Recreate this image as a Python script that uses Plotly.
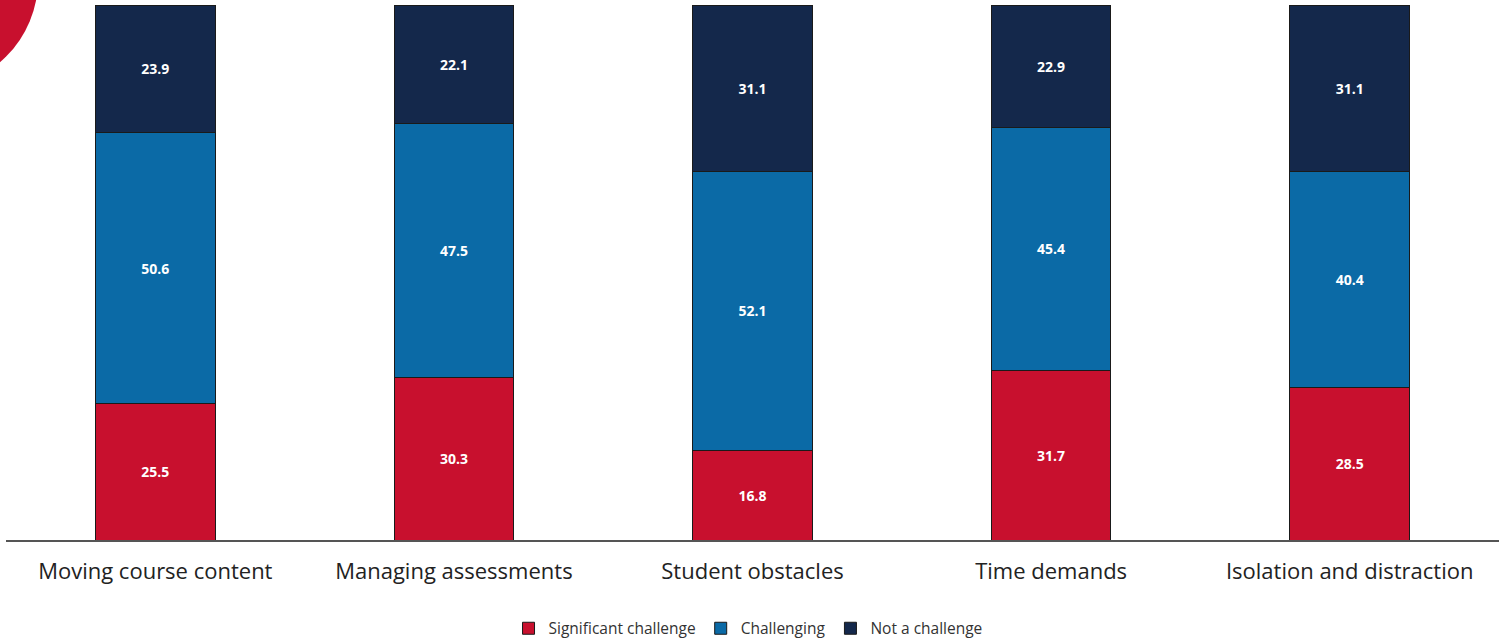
import plotly.graph_objects as go

categories = ["Moving course content", "Managing assessments", "Student obstacles",
              "Time demands", "Isolation and distraction"]
significant = [25.5, 30.3, 16.8, 31.7, 28.5]
challenging = [50.6, 47.5, 52.1, 45.4, 40.4]
not_challenge = [23.9, 22.1, 31.1, 22.9, 31.1]

series = [
    ("Significant challenge", significant, "#C8102E"),
    ("Challenging", challenging, "#0B6AA6"),
    ("Not a challenge", not_challenge, "#14284B"),
]

fig = go.Figure()
for name, vals, color in series:
    fig.add_trace(go.Bar(
        name=name, x=categories, y=vals,
        marker=dict(color=color, line=dict(color="#1a1a1a", width=1)),
        text=[f"{v:.1f}" for v in vals],
        textposition="inside", insidetextanchor="middle",
        textfont=dict(color="white", size=14, family="Open Sans"),
        texttemplate="<b>%{text}</b>",
        hoverinfo="x+y+name",
    ))

L, R, T, B = 6, 0, 5, 104
W, H = 1499, 644
pw, ph = W - L - R, H - T - B
cx, cy, r = -70, -20, 108
fig.add_shape(type="circle", xref="paper", yref="paper",
              x0=(cx - r - L) / pw, x1=(cx + r - L) / pw,
              y0=(H - B - (cy + r)) / ph, y1=(H - B - (cy - r)) / ph,
              fillcolor="#C8102E", line=dict(width=0), layer="below")

fig.update_layout(
    barmode="stack", bargap=0.6,
    width=W, height=H,
    margin=dict(l=L, r=R, t=T, b=B, autoexpand=False),
    plot_bgcolor="white", paper_bgcolor="white",
    showlegend=True,
    legend=dict(orientation="h", x=0.497, xanchor="center", y=-0.134, yanchor="top",
                font=dict(size=15.5, family="Open Sans", color="#333"),
                itemwidth=30, traceorder="normal"),
    xaxis=dict(showline=True, linecolor="#555", linewidth=2, ticks="",
               tickfont=dict(size=22, family="Open Sans", color="#222"),
               ticklabelstandoff=11, showgrid=False, automargin=False),
    yaxis=dict(range=[0, 100], visible=False, showgrid=False),
    uniformtext=dict(mode="show", minsize=12),
)

fig.write_html(
    "out.html",
    config={"displayModeBar": False},
    post_script="document.body.style.margin='0';document.body.style.padding='0';window.dispatchEvent(new Event('resize'));",
)
